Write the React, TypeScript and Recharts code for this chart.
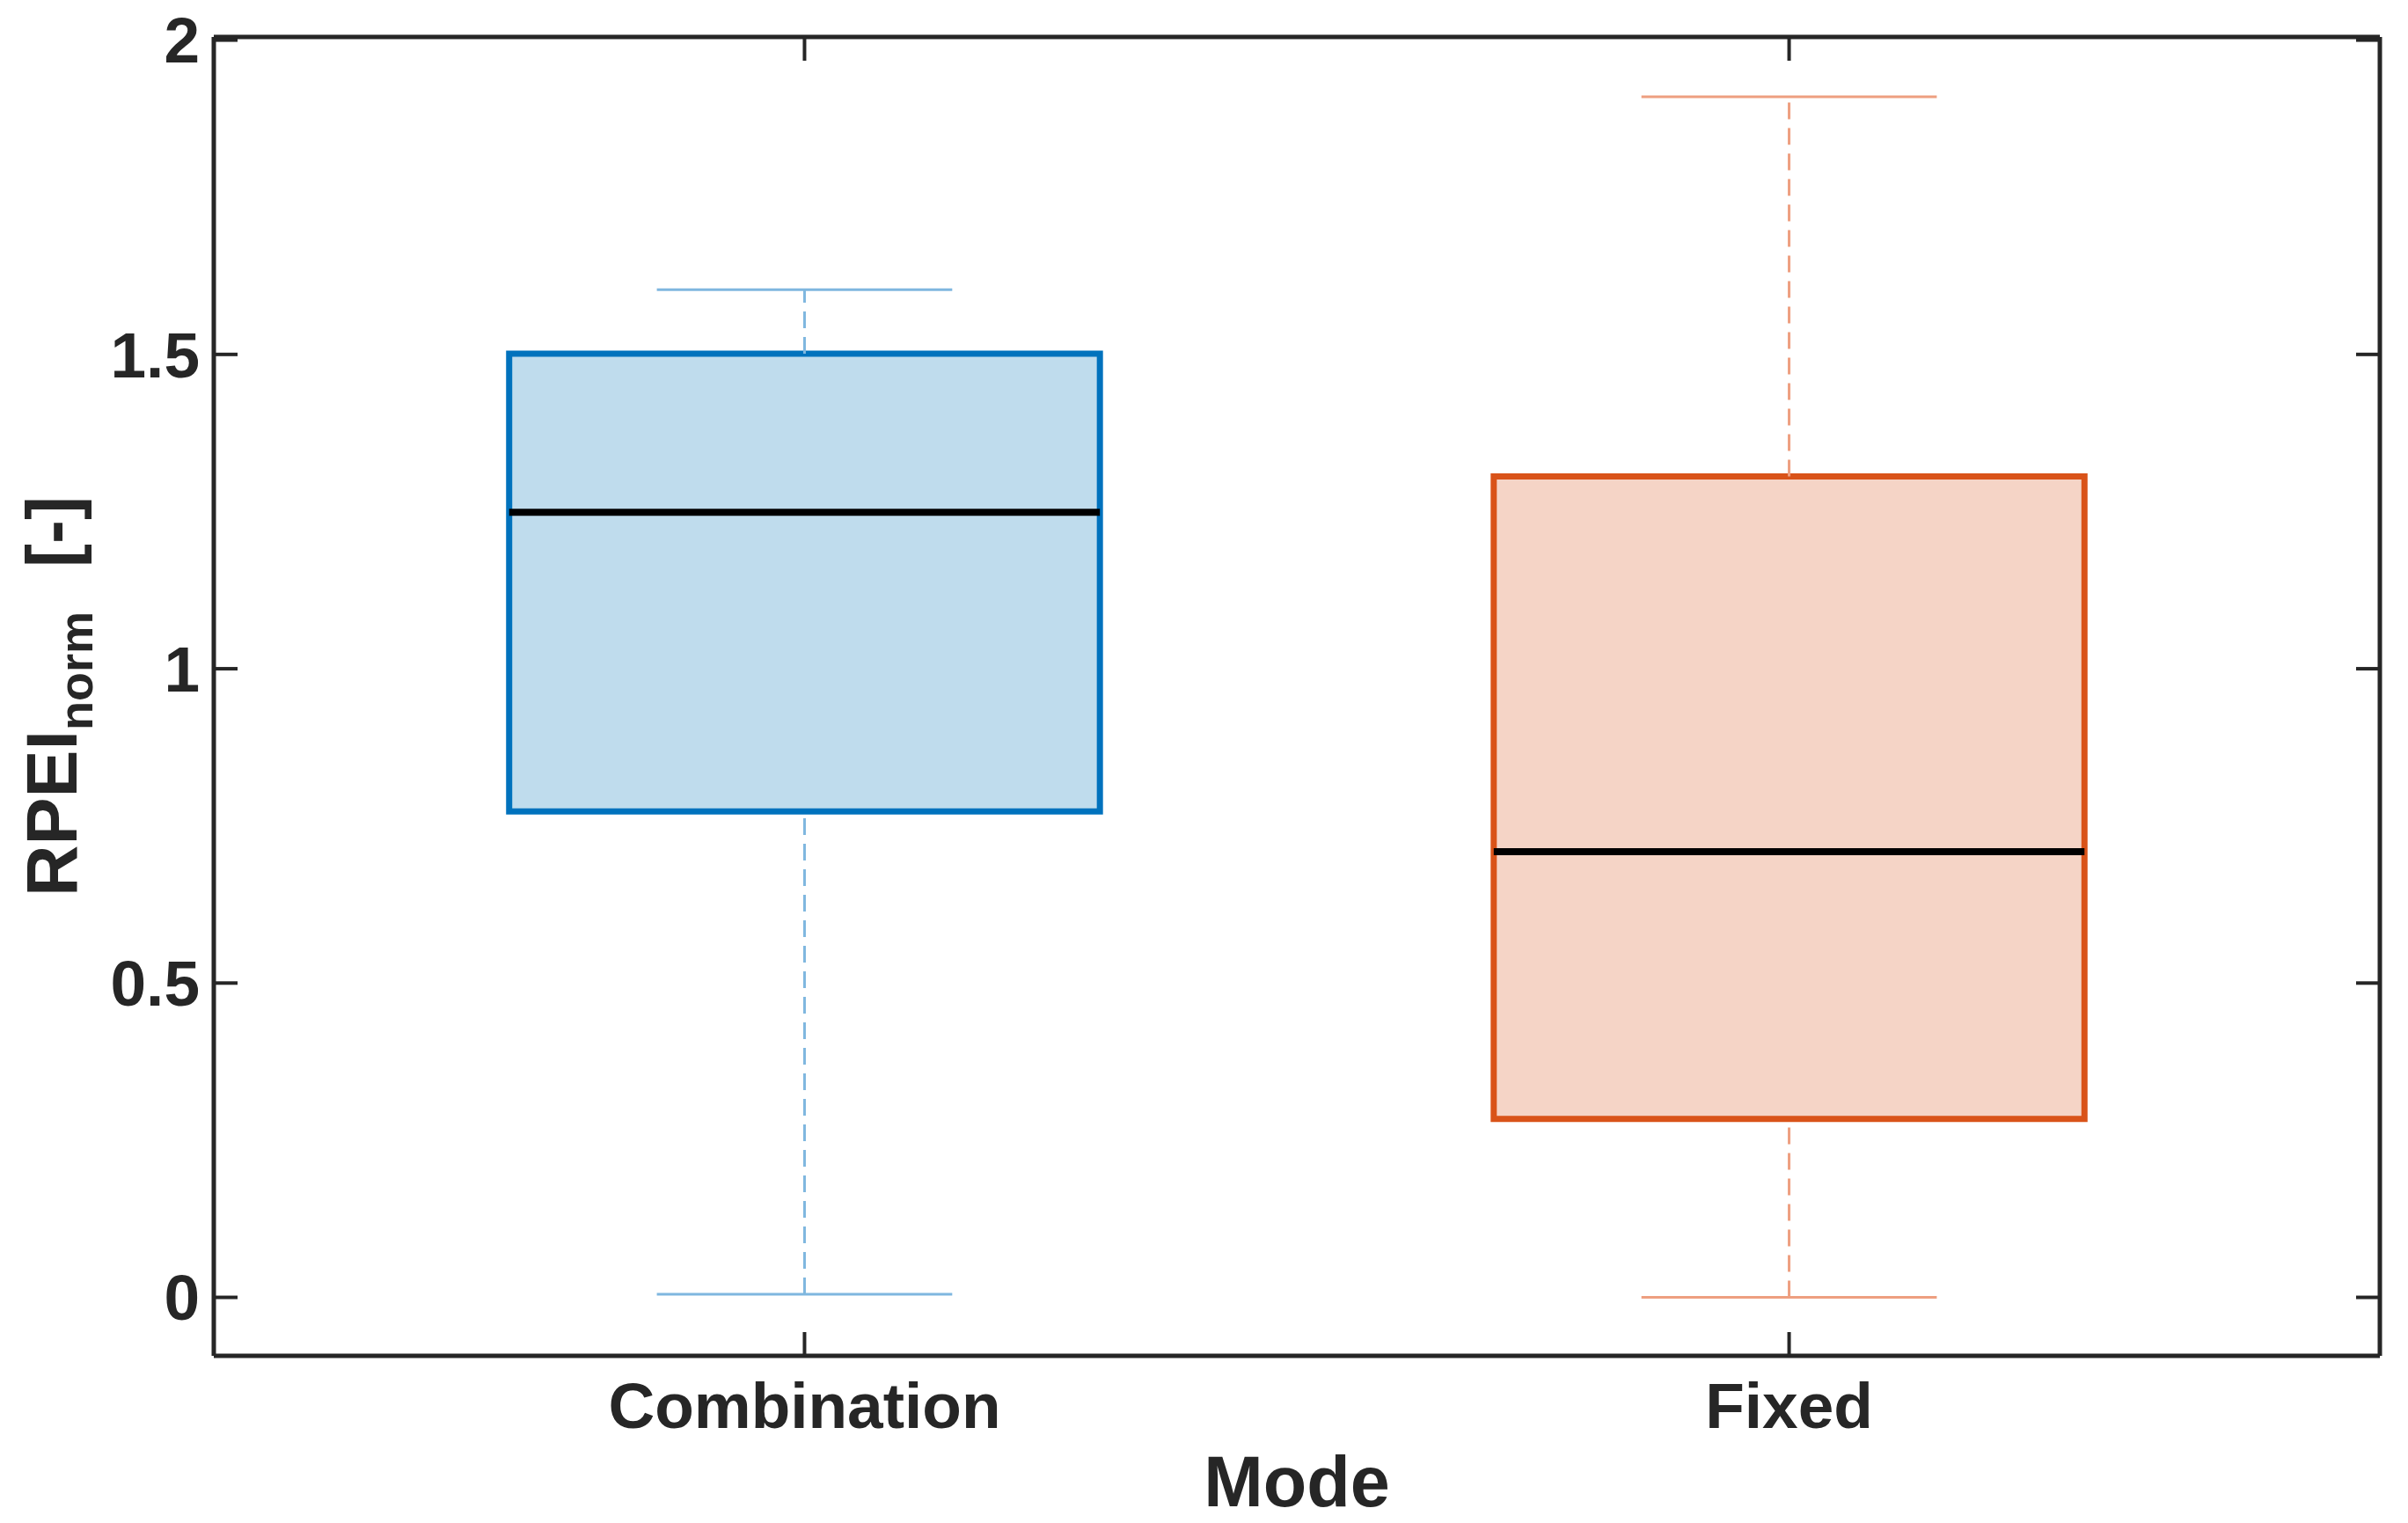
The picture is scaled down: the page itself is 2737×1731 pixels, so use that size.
import React from 'react';
import {
  ComposedChart,
  XAxis,
  YAxis,
  ReferenceArea,
  ReferenceLine,
} from 'recharts';

// box plot stats
const modes = ['Combination', 'Fixed'];
const positions = [1, 2];
const lowerWhisker = [0.005, 0];
const q1 = [0.773, 0.284];
const median = [1.249, 0.709];
const q3 = [1.501, 1.306];
const upperWhisker = [1.603, 1.91];
const yTicks = [0, 0.5, 1, 1.5, 2];

const boxColors = ['#0072BD', '#D95319'];
const fillColors = ['#BFDCED', '#F5D4C6'];
const whiskerColors = ['#7FB7DF', '#EE9F80'];

const BOX_HALF = 0.3;
const CAP_HALF = 0.15;
const AXIS = '#262626';
const FONT = '"Liberation Sans", Arial, sans-serif';

const boxData = modes.map((m, i) => ({
  mode: m,
  pos: positions[i],
  lo: lowerWhisker[i],
  q1: q1[i],
  med: median[i],
  q3: q3[i],
  hi: upperWhisker[i],
}));

const tickStyle = { fontSize: 73, fontWeight: 'bold', fill: AXIS, fontFamily: FONT };
const noLabel = () => <g />;

function YLabel(props: any) {
  const vb = props.viewBox;
  const cx = vb.x + 87;
  const cy = vb.y + vb.height / 2;
  return (
    <text
      x={cx}
      y={cy}
      transform={`rotate(-90, ${cx}, ${cy})`}
      textAnchor="middle"
      fontFamily={FONT}
      fontWeight="bold"
      fontSize={81}
      fill={AXIS}
    >
      RPEI
      <tspan fontSize={54} dy={18}>norm</tspan>
      <tspan dy={-18} dx={50}>[-]</tspan>
    </text>
  );
}

function XLabel(props: any) {
  const vb = props.viewBox;
  return (
    <text
      x={vb.x + vb.width / 2}
      y={vb.y + 171}
      textAnchor="middle"
      fontFamily={FONT}
      fontWeight="bold"
      fontSize={81}
      fill={AXIS}
    >
      Mode
    </text>
  );
}

export default function App() {
  return (
    <div style={{ position: 'absolute', left: 0, top: 0, width: 2737, height: 1731, background: '#fff' }}>
      <ComposedChart width={2737} height={1731} data={boxData} margin={{ top: 0, right: 0, bottom: 0, left: 0 }}>
        <XAxis
          dataKey="pos"
          type="number"
          domain={[0.4, 2.6]}
          ticks={positions}
          interval={0}
          allowDataOverflow
          height={190}
          tickSize={-27}
          tickMargin={57}
          tickFormatter={(v: number) => modes[positions.indexOf(v)]}
          tick={tickStyle}
          axisLine={{ stroke: AXIS, strokeWidth: 5 }}
          tickLine={{ stroke: AXIS, strokeWidth: 4 }}
          label={XLabel}
        />
        <XAxis
          xAxisId="top"
          orientation="top"
          dataKey="pos"
          type="number"
          domain={[0.4, 2.6]}
          ticks={positions}
          interval={0}
          allowDataOverflow
          height={42}
          tickSize={-27}
          tick={noLabel}
          axisLine={{ stroke: AXIS, strokeWidth: 5 }}
          tickLine={{ stroke: AXIS, strokeWidth: 4 }}
        />
        <YAxis
          type="number"
          domain={[-0.093, 2.005]}
          ticks={yTicks}
          interval={0}
          allowDataOverflow
          width={243}
          tickSize={-27}
          tickMargin={43}
          tick={tickStyle}
          axisLine={{ stroke: AXIS, strokeWidth: 5 }}
          tickLine={{ stroke: AXIS, strokeWidth: 4 }}
          label={YLabel}
        />
        <YAxis
          yAxisId="right"
          orientation="right"
          type="number"
          domain={[-0.093, 2.005]}
          ticks={yTicks}
          interval={0}
          allowDataOverflow
          width={32}
          tickSize={-27}
          tick={noLabel}
          axisLine={{ stroke: AXIS, strokeWidth: 5 }}
          tickLine={{ stroke: AXIS, strokeWidth: 4 }}
        />

        {boxData.map((d, i) => (
          <ReferenceLine
            key={`wu${i}`}
            segment={[{ x: d.pos, y: d.q3 }, { x: d.pos, y: d.hi }]}
            stroke={whiskerColors[i]}
            strokeWidth={3}
            strokeDasharray="19 10"
          />
        ))}
        {boxData.map((d, i) => (
          <ReferenceLine
            key={`wl${i}`}
            segment={[{ x: d.pos, y: d.lo }, { x: d.pos, y: d.q1 }]}
            stroke={whiskerColors[i]}
            strokeWidth={3}
            strokeDasharray="19 10"
          />
        ))}
        {boxData.map((d, i) => (
          <ReferenceLine
            key={`cu${i}`}
            segment={[{ x: d.pos - CAP_HALF, y: d.hi }, { x: d.pos + CAP_HALF, y: d.hi }]}
            stroke={whiskerColors[i]}
            strokeWidth={3}
          />
        ))}
        {boxData.map((d, i) => (
          <ReferenceLine
            key={`cl${i}`}
            segment={[{ x: d.pos - CAP_HALF, y: d.lo }, { x: d.pos + CAP_HALF, y: d.lo }]}
            stroke={whiskerColors[i]}
            strokeWidth={3}
          />
        ))}
        {boxData.map((d, i) => (
          <ReferenceArea
            key={`b${i}`}
            x1={d.pos - BOX_HALF}
            x2={d.pos + BOX_HALF}
            y1={d.q1}
            y2={d.q3}
            fill={fillColors[i]}
            fillOpacity={1}
            stroke={boxColors[i]}
            strokeWidth={7}
          />
        ))}
        {boxData.map((d, i) => (
          <ReferenceLine
            key={`m${i}`}
            segment={[{ x: d.pos - BOX_HALF, y: d.med }, { x: d.pos + BOX_HALF, y: d.med }]}
            stroke="#000"
            strokeWidth={8}
          />
        ))}
      </ComposedChart>
    </div>
  );
}
